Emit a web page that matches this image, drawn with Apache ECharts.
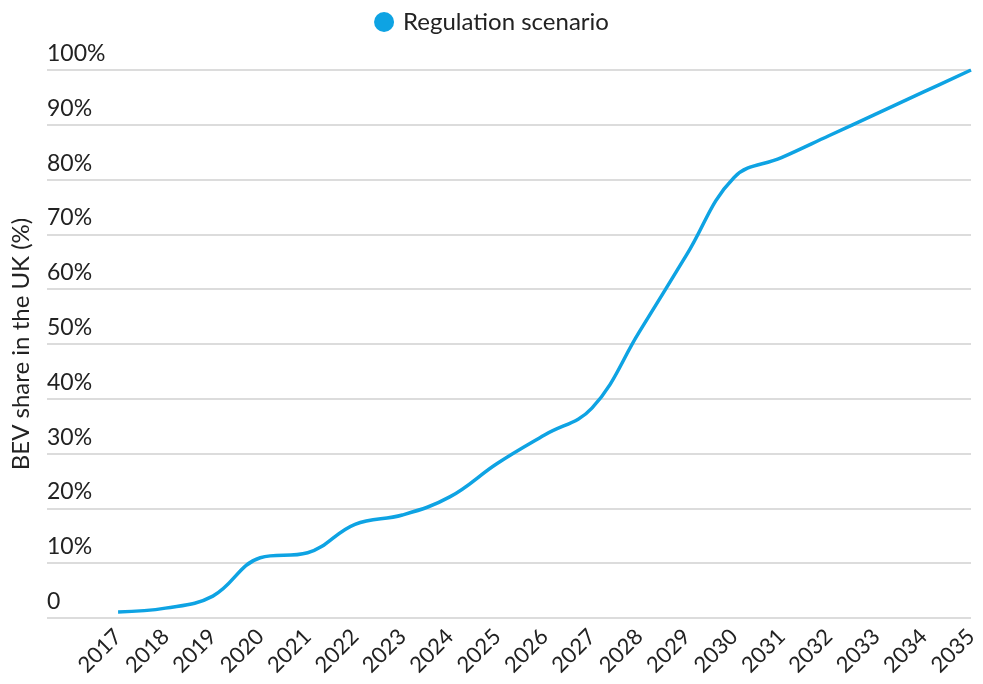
<!DOCTYPE html>
<html><head><meta charset="utf-8">
<script src="https://cdn.jsdelivr.net/npm/echarts@6/dist/echarts.min.js"></script>
<style>html,body{margin:0;padding:0;background:#fff}#c{width:983px;height:684px}</style>
</head><body><div id="c"></div>
<script>
const years = [2017,2018,2019,2020,2021,2022,2023,2024,2025,2026,2027,2028,2029,2030,2031,2032,2033,2034,2035];
const bevShare = [1.1,1.8,4.0,11.0,11.9,17.1,18.8,22.1,28.2,33.4,38.3,52.2,66.3,80.4,84.0,88.0,92.0,96.0,100.0];
const seriesName = 'Regulation scenario';
const yTicks = [0,10,20,30,40,50,60,70,80,90,100];

const chart = echarts.init(document.getElementById('c'));
const font = 'Lato, "Noto Sans", sans-serif';
chart.setOption({
  animation: false,
  textStyle: {fontFamily: font},
  legend: {
    top: 5, left: 'center', icon: 'circle', itemWidth: 28, itemHeight: 20, itemGap: 10,
    textStyle: {fontSize: 24, color: '#222', fontFamily: font},
    data: [seriesName]
  },
  grid: {left: 47, right: 12, top: 70, bottom: 66, containLabel: false},
  xAxis: {
    type: 'value', min: 2015.5, max: 2035, interval: 0.5,
    axisLine: {show: false}, axisTick: {show: false}, splitLine: {show: false},
    axisLabel: {
      rotate: 45, fontSize: 22, color: '#222', margin: 15, fontFamily: font,
      formatter: v => (Number.isInteger(v) && years.indexOf(v) >= 0) ? String(v) : ''
    }
  },
  yAxis: {
    type: 'value', min: 0, max: 100, interval: 10,
    name: 'BEV share in the UK (%)', nameLocation: 'middle', nameGap: 14,
    nameTextStyle: {fontSize: 24, color: '#222', fontFamily: font},
    axisLine: {show: false}, axisTick: {show: false},
    splitLine: {lineStyle: {color: '#d0d0d0', width: 1.5}},
    axisLabel: {
      inside: true, fontSize: 23, color: '#222', margin: 0, verticalAlign: 'bottom',
      padding: [0, 0, 5, 0], fontFamily: font,
      formatter: v => yTicks.indexOf(v) >= 0 ? (v === 0 ? '0' : v + '%') : ''
    }
  },
  series: [{
    name: seriesName, type: 'line', smooth: 0.4, showSymbol: false, symbol: 'circle',
    itemStyle: {color: '#0ea3e3'},
    lineStyle: {color: '#0ea3e3', width: 3.5},
    data: years.map((y, i) => [y, bevShare[i]])
  }]
});
</script></body></html>
